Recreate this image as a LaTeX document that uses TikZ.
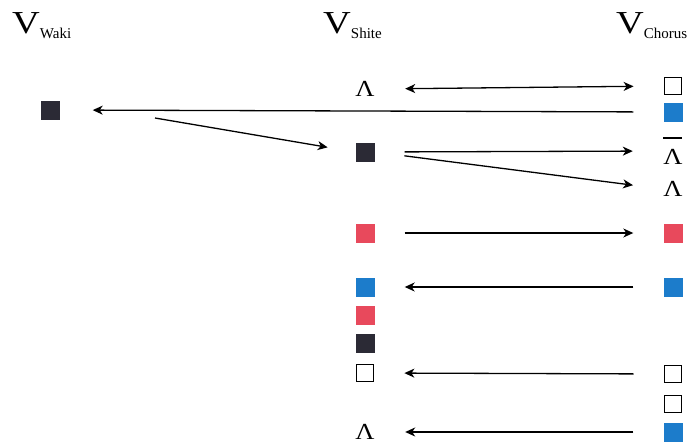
\documentclass[tikz,border=0pt]{standalone}
\usepackage{fontspec}
\setmainfont{Liberation Serif}
\usetikzlibrary{arrows.meta}

\definecolor{sqblk}{HTML}{2B2A35}
\definecolor{sqrd}{HTML}{E8495C}
\definecolor{sqbl}{HTML}{1C7CCB}

\newcommand{\vlab}[1]{{\fontsize{32}{32}\selectfont\scalebox{1.2}[1]{V}}\raisebox{-5pt}{\fontsize{15}{15}\selectfont #1}}
\newcommand{\lamb}{\scalebox{1.15}[1]{Λ}}
\newcommand{\lambar}{\rlap{\rule[26pt]{19pt}{1.5pt}}\lamb}

\tikzset{
	sq/.style={inner sep=0pt, minimum size=19pt},
	blk/.style={sq, fill=sqblk},
	rd/.style={sq, fill=sqrd},
	bl/.style={sq, fill=sqbl},
	wht/.style={sq, draw, line width=1.3pt, minimum size=17.5pt},
	lam/.style={inner sep=0pt, minimum size=20pt, font=\fontsize{23}{23}\selectfont},
	hd/.style={anchor=base west, inner sep=0pt},
	arr/.style={->, >={Stealth[length=10pt,width=9pt,inset=3pt]}, line width=1.3pt,
		shorten >=30pt, shorten <=30pt},
}

\begin{document}
\begin{tikzpicture}[x=1pt, y=-1pt]
	\useasboundingbox (0,0) rectangle (689,445);

	\node[hd] (hw) at (12,33) {\vlab{Waki}};
	\node[hd] (hs) at (323,33) {\vlab{Shite}};
	\node[hd] (hc) at (616,33) {\vlab{Chorus}};

	\node[blk] (w1) at (50,110) {};

	\node[lam] (s1) at (365,89) {\lamb};
	\node[blk] (s2) at (365,152) {};
	\node[rd]  (s3) at (365,233) {};
	\node[bl]  (s4) at (365,287) {};
	\node[rd]  (s5) at (365,315) {};
	\node[blk] (s6) at (365,343) {};
	\node[wht] (s7) at (365,373) {};
	\node[lam] (s8) at (365,432) {\lamb};

	\node[wht] (c1) at (673,86) {};
	\node[bl]  (c2) at (673,112) {};
	\node[lam] (c3) at (673,151) {\lambar};
	\node[lam] (c4) at (673,189) {\lamb};
	\node[rd]  (c5) at (673,233) {};
	\node[bl]  (c6) at (673,287) {};
	\node[wht] (c7) at (673,374) {};
	\node[wht] (c8) at (673,404) {};
	\node[bl]  (c9) at (673,432) {};

	\coordinate (wk) at (155,118);

	\draw[arr, <->] (s1.east) -- (c1.west);
	\draw[arr, shorten >=33pt] (c2.west) -- (w1.east);
	\draw[arr, shorten <=0pt, shorten >=28pt] (wk) -- (s2.west);

	\foreach \i / \j in {
	2/3,
	2/4,
	3/5}
	{
		\draw[arr] (s\i.east) -- (c\j.west);
	};
	\foreach \j / \i in {
	6/4,
	7/7,
	9/8}
	{
		\draw[arr] (c\j.west) -- (s\i.east);
	};
\end{tikzpicture}
\end{document}
